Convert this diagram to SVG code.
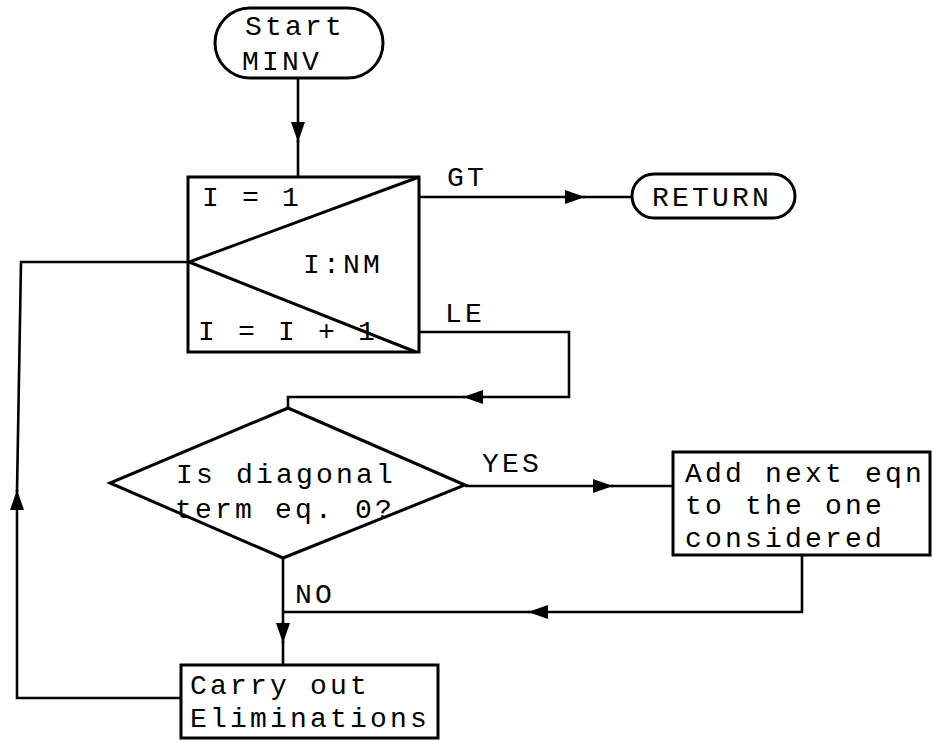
<svg xmlns="http://www.w3.org/2000/svg" width="933" height="741" viewBox="0 0 933 741">
<style>
.s{fill:#fff;stroke:#000;stroke-width:3;stroke-linejoin:miter}
.c{fill:none;stroke:#000;stroke-width:2.6}
text{font-family:"Liberation Mono","DejaVu Sans Mono",monospace;font-size:28px;letter-spacing:3.2px;fill:#000}
</style>
<defs>
<marker id="ah" markerUnits="userSpaceOnUse" viewBox="0 0 20 14" refX="20" refY="7" markerWidth="20" markerHeight="14" orient="auto">
<path d="M0,0 L20,7 L0,14 Z" fill="#000"/>
</marker>
</defs>
<rect width="933" height="741" fill="#fff"/>
<g id="connectors">
<path class="c" d="M298,78 L298,142" marker-end="url(#ah)"/>
<path class="c" d="M298,140 L298,176"/>
<path class="c" d="M420,197 L585,197" marker-end="url(#ah)"/>
<path class="c" d="M583,197 L632,197"/>
<path class="c" d="M416,332 L569,332 L569,397 L463,397" marker-end="url(#ah)"/>
<path class="c" d="M465,397 L288,397 L288,408"/>
<path class="c" d="M465,486 L613,486" marker-end="url(#ah)"/>
<path class="c" d="M611,486 L673,486"/>
<path class="c" d="M802,555 L802,612 L528,612" marker-end="url(#ah)"/>
<path class="c" d="M530,612 L283,612"/>
<path class="c" d="M283,558 L283,643" marker-end="url(#ah)"/>
<path class="c" d="M283,641 L283,664"/>
<path class="c" d="M181,698 L17,698 L17,490" marker-end="url(#ah)"/>
<path class="c" d="M17,492 L21,262 L189,262"/>
<text x="447" y="186">GT</text>
<text x="445" y="322">LE</text>
<text x="482" y="472">YES</text>
<text x="295" y="603">NO</text>
</g>
<g id="start">
<rect class="s" x="215" y="8" width="168" height="70" rx="35" ry="35"/>
<text x="245" y="35">Start</text>
<text x="242" y="70">MINV</text>
</g>
<g id="loop">
<rect class="s" x="188" y="177" width="231" height="175"/>
<path class="c" d="M419,177 L189,262 L416,352" style="stroke-width:3"/>
<text x="202" y="206">I = 1</text>
<text x="303" y="273">I:NM</text>
<text x="198" y="340">I = I + 1</text>
</g>
<g id="return">
<rect class="s" x="632" y="174" width="163" height="44" rx="22" ry="22"/>
<text x="652" y="206">RETURN</text>
</g>
<g id="decision">
<polygon class="s" points="288,408 465,485 283,558 110,483"/>
<text x="176" y="483">Is diagonal</text>
<text x="175" y="518">term eq. 0?</text>
</g>
<g id="add">
<rect class="s" x="673" y="452" width="257" height="103"/>
<text x="685" y="482">Add next eqn</text>
<text x="685" y="514">to the one</text>
<text x="685" y="547">considered</text>
</g>
<g id="carry">
<rect class="s" x="181" y="665" width="257" height="73"/>
<text x="190" y="694">Carry out</text>
<text x="190" y="727">Eliminations</text>
</g>
</svg>
